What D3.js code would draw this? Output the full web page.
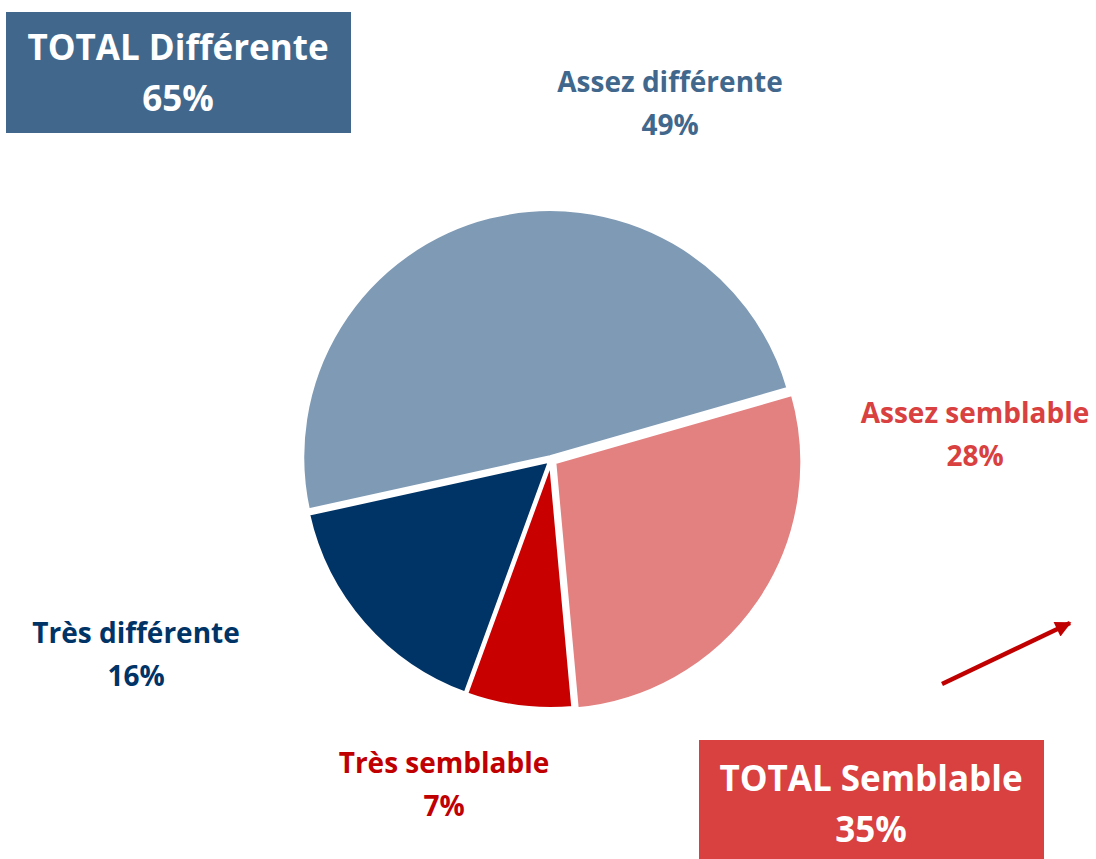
<!DOCTYPE html>
<html><head><meta charset="utf-8">
<script src="https://cdn.jsdelivr.net/npm/d3@7"></script>
<style>body{margin:0;background:#fff}svg{display:block}text{font-family:"Open Sans",Lato,sans-serif;font-weight:bold}</style>
</head><body>
<svg id="c" width="1096" height="859"></svg>
<script>
const categories = ["Assez différente", "Assez semblable", "Très semblable", "Très différente"];
const values = [49, 28, 7, 16];
const colors = ["#7F9AB4", "#E38080", "#C80000", "#003366"];
const labelColors = ["#41688C", "#D94040", "#C00000", "#003366"];
const totals = [{label: "TOTAL Différente", value: 65}, {label: "TOTAL Semblable", value: 35}];

const svg = d3.select("#c");
const cx = 551, cy = 460, R = 248;
const startDeg = 257.6;
const pie = d3.pie().sort(null).value(d => d)
  .startAngle(startDeg * Math.PI / 180).endAngle((startDeg + 360) * Math.PI / 180);
const arc = d3.arc().innerRadius(0).outerRadius(R);
const explode = [3, 4, 1, 1];
const arcs = pie(values);
const g = svg.append("g").attr("transform", `translate(${cx},${cy})`);
g.selectAll("path").data(arcs).enter().append("path")
  .attr("d", arc)
  .attr("fill", (d, i) => colors[i])
  .attr("stroke", "#fff").attr("stroke-width", 4).attr("stroke-linejoin", "round")
  .attr("transform", (d, i) => {
    const a = (d.startAngle + d.endAngle) / 2;
    return `translate(${Math.sin(a) * explode[i]},${-Math.cos(a) * explode[i]})`;
  });

// slice labels
const labelPos = [[670, 92], [975, 423], [444, 773], [136, 643]];
categories.forEach((c, i) => {
  const t = svg.append("text").attr("text-anchor", "middle").attr("fill", labelColors[i])
    .attr("font-size", 28);
  t.append("tspan").attr("x", labelPos[i][0]).attr("y", labelPos[i][1]).text(c);
  t.append("tspan").attr("x", labelPos[i][0]).attr("y", labelPos[i][1] + 43).text(values[i] + "%");
});

// total boxes
const boxes = [{x: 6, y: 12, w: 345, h: 121, fill: "#41688C", tx: 178, ty: 60},
               {x: 699, y: 740, w: 345, h: 125, fill: "#D94040", tx: 871, ty: 791}];
totals.forEach((d, i) => {
  const b = boxes[i];
  svg.append("rect").attr("x", b.x).attr("y", b.y).attr("width", b.w).attr("height", b.h).attr("fill", b.fill);
  const t = svg.append("text").attr("text-anchor", "middle").attr("fill", "#fff").attr("font-size", 35);
  t.append("tspan").attr("x", b.tx).attr("y", b.ty).text(d.label);
  t.append("tspan").attr("x", b.tx).attr("y", b.ty + 51).text(d.value + "%");
});

// arrow
const defs = svg.append("defs");
defs.append("marker").attr("id", "ah").attr("viewBox", "0 0 10 10").attr("refX", 9).attr("refY", 5)
  .attr("markerUnits", "userSpaceOnUse")
  .attr("markerWidth", 19).attr("markerHeight", 16).attr("orient", "auto")
  .append("path").attr("d", "M0,0 L10,5 L0,10 z").attr("fill", "#C00000");
svg.append("line").attr("x1", 942).attr("y1", 684).attr("x2", 1070).attr("y2", 623)
  .attr("stroke", "#C00000").attr("stroke-width", 4.5).attr("marker-end", "url(#ah)");
</script>
</body></html>
